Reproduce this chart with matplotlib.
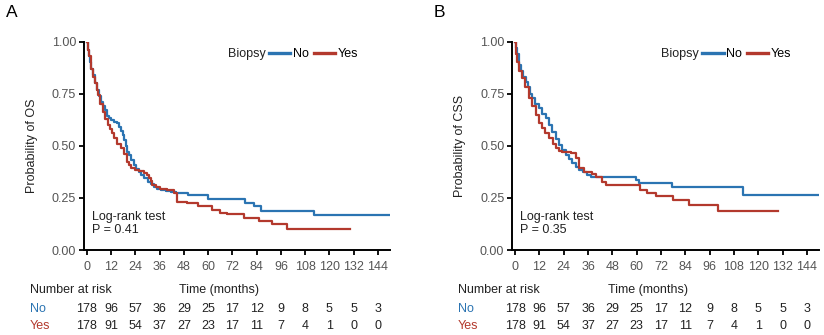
import matplotlib
matplotlib.use("Agg")
import matplotlib.pyplot as plt

plt.rcParams['font.family'] = ['Liberation Sans', 'DejaVu Sans']

BLUE = '#2B74B2'
RED = '#B3392D'

# Kaplan-Meier curves (time in months, survival prob.)
os_no_t = [0, 0.5, 1, 1.5, 2, 3, 4, 5, 6, 7, 8, 9, 10, 11, 12, 13.5, 15, 16, 17,
           17.6, 18.5, 19.5, 20, 21, 22, 23.4, 24.5, 25.5, 26.7, 28, 30, 31.5,
           33, 34.5, 36.5, 39, 41.5, 44, 50, 60, 78, 82.5, 86, 112.6, 150]
os_no_s = [1.0, 0.96, 0.93, 0.90, 0.87, 0.84, 0.80, 0.77, 0.74, 0.71, 0.69, 0.67,
           0.645, 0.635, 0.625, 0.616, 0.608, 0.59, 0.57, 0.552, 0.53, 0.50,
           0.472, 0.455, 0.43, 0.408, 0.39, 0.375, 0.36, 0.345, 0.328, 0.315,
           0.304, 0.295, 0.288, 0.284, 0.28, 0.276, 0.264, 0.243, 0.227, 0.211,
           0.187, 0.166, 0.166]

os_yes_t = [0, 0.5, 1, 2, 3, 4, 5, 5.3, 6.5, 7.7, 9, 10.2, 11.5, 12.5, 13.5, 15,
            16.8, 18.5, 20, 21, 21.7, 24, 25.8, 28, 29.5, 30.8, 31.6, 32.4, 34,
            36, 39.8, 43, 44.8, 49.7, 55, 62, 66, 69.5, 77.6, 85, 91.7, 99, 130]
os_yes_s = [1.0, 0.96, 0.93, 0.87, 0.83, 0.80, 0.77, 0.744, 0.70, 0.664, 0.63,
            0.60, 0.58, 0.56, 0.536, 0.51, 0.488, 0.46, 0.424, 0.41, 0.392,
            0.385, 0.379, 0.37, 0.36, 0.344, 0.33, 0.312, 0.30, 0.295, 0.288,
            0.272, 0.232, 0.224, 0.211, 0.192, 0.179, 0.171, 0.155, 0.139,
            0.125, 0.101, 0.101]

css_no_t = [0, 0.5, 1, 2, 3, 4, 5.3, 6.5, 7.5, 8.5, 10, 11.9, 13.5, 15.2, 16.8,
            18.4, 20, 21.7, 23.4, 25, 26.7, 28.3, 30, 31.6, 33.5, 35.7, 37.3,
            59.6, 61, 77.2, 112.7, 150]
css_no_s = [1.0, 0.97, 0.94, 0.89, 0.86, 0.83, 0.808, 0.78, 0.75, 0.728, 0.70,
            0.68, 0.655, 0.632, 0.60, 0.568, 0.535, 0.504, 0.48, 0.456, 0.435,
            0.416, 0.40, 0.384, 0.372, 0.36, 0.352, 0.336, 0.323, 0.304, 0.264,
            0.264]

css_yes_t = [0, 0.3, 1, 2, 3.6, 5, 6.9, 8.5, 10.2, 12, 13.5, 15, 16.8, 18.5,
             20.1, 21.5, 23.4, 27.6, 30, 31.6, 34, 38.2, 39.8, 43, 44.8, 61.7,
             65.3, 69.5, 77.7, 86, 100, 129.5]
css_yes_s = [1.0, 0.94, 0.90, 0.86, 0.824, 0.78, 0.728, 0.69, 0.648, 0.61, 0.584,
             0.56, 0.536, 0.51, 0.488, 0.475, 0.472, 0.464, 0.44, 0.392, 0.376,
             0.365, 0.352, 0.328, 0.312, 0.288, 0.275, 0.259, 0.24, 0.216, 0.187,
             0.187]

# number at risk (same table under both panels)
risk_times = [0, 12, 24, 36, 48, 60, 72, 84, 96, 108, 120, 132, 144]
risk_no = [178, 96, 57, 36, 29, 25, 17, 12, 9, 8, 5, 5, 3]
risk_yes = [178, 91, 54, 37, 27, 23, 17, 11, 7, 4, 1, 0, 0]

fig = plt.figure(figsize=(8.24, 3.35), dpi=100)
axA = fig.add_axes([0.1019, 0.2537, 0.3714, 0.622])
axB = fig.add_axes([0.6214, 0.2537, 0.3726, 0.622])

panels = [
    (axA, 'A', 'Probability of OS', os_no_t, os_no_s, os_yes_t, os_yes_s, 'P = 0.41', 0.47),
    (axB, 'B', 'Probability of CSS', css_no_t, css_no_s, css_yes_t, css_yes_s, 'P = 0.35', 0.485),
]

FS = 9

for ax, letter, ylab, nt, ns, yt, ys, ptxt, leg_x in panels:
    ax.plot(nt, ns, drawstyle='steps-post', color=BLUE, lw=1.6, label='No')
    ax.plot(yt, ys, drawstyle='steps-post', color=RED, lw=1.6, label='Yes')

    ax.set_xlim(-1.5, 150)
    ax.set_ylim(0, 1.0)
    ax.set_xticks(risk_times)
    ax.set_yticks([0, 0.25, 0.5, 0.75, 1.0])
    ax.set_yticklabels(['0.00', '0.25', '0.50', '0.75', '1.00'])
    for s in ['top', 'right']:
        ax.spines[s].set_visible(False)
    for s in ['left', 'bottom']:
        ax.spines[s].set_linewidth(1.4)
    ax.tick_params(axis='both', length=3.6, width=1.3, labelsize=FS,
                   labelcolor='#555555', color='black')
    ax.tick_params(axis='x', pad=4)
    ax.tick_params(axis='y', pad=2)
    ax.set_ylabel(ylab, fontsize=FS, color='#222222')
    ax.yaxis.set_label_coords(-0.15, 0.5)

    ax.text(0.026, 0.158, 'Log-rank test', transform=ax.transAxes,
            fontsize=FS, va='center', color='#222222')
    ax.text(0.026, 0.096, ptxt, transform=ax.transAxes,
            fontsize=FS, va='center', color='#222222')

    # legend: "Biopsy" label followed by a one-row legend
    ax.text(leg_x, 0.941, 'Biopsy', transform=ax.transAxes, fontsize=FS,
            va='center', color='#222222')
    leg = ax.legend(loc='center left', bbox_to_anchor=(leg_x + 0.135, 0.941),
                    ncol=2, frameon=False, fontsize=FS, handlelength=1.7,
                    handletextpad=0.2, columnspacing=0.4, borderpad=0,
                    borderaxespad=0)
    for h in leg.get_lines():
        h.set_linewidth(2.4)

    fig.text(ax.get_position().x0 - 0.095, 0.985, letter, fontsize=12.5,
             va='top', ha='left')

    # risk table
    xt = ax.get_xaxis_transform()
    ax.text(-0.176, -0.192, 'Number at risk', transform=ax.transAxes,
            fontsize=FS, va='center', color='#222222')
    ax.text(65.5, -0.192, 'Time (months)', transform=xt, fontsize=FS,
            va='center', ha='center', color='#222222')
    ax.text(-0.176, -0.283, 'No', transform=ax.transAxes, fontsize=FS,
            va='center', color=BLUE)
    ax.text(-0.176, -0.365, 'Yes', transform=ax.transAxes, fontsize=FS,
            va='center', color=RED)
    for t, n_no, n_yes in zip(risk_times, risk_no, risk_yes):
        ax.text(t, -0.283, str(n_no), transform=xt, fontsize=FS,
                va='center', ha='center', color='#222222')
        ax.text(t, -0.365, str(n_yes), transform=xt, fontsize=FS,
                va='center', ha='center', color='#222222')

fig.savefig('out.png', dpi=100)
